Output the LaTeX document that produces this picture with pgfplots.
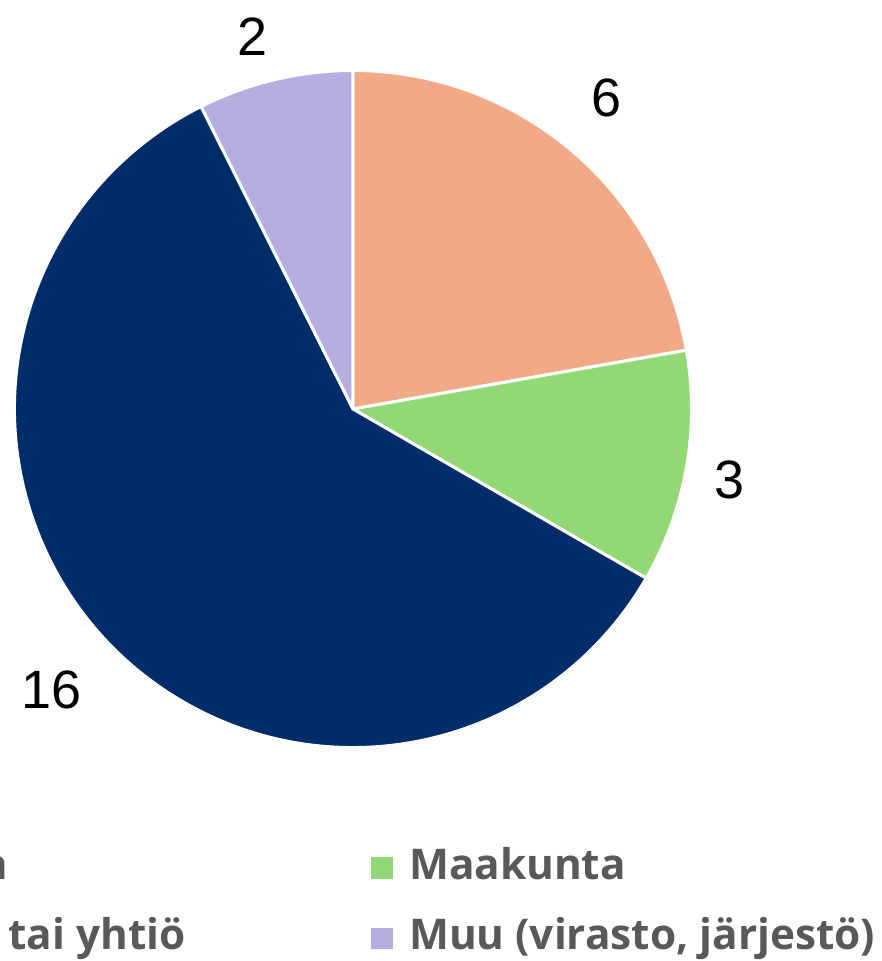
\documentclass[border=0pt]{standalone}
\usepackage{pgfplots}
\pgfplotsset{compat=1.18}
\usepackage{pgfplotstable}
\usepackage{fontspec}
\setmainfont{Liberation Sans}
\newfontfamily\legfont{Open Sans}[Ligatures=NoCommon]
\definecolor{slice0}{HTML}{F1AA85}
\definecolor{slice1}{HTML}{92D975}
\definecolor{slice2}{HTML}{002D6A}
\definecolor{slice3}{HTML}{B5AFE0}
\definecolor{legtext}{HTML}{595959}

% value, label centre (px from left, px from top)
\pgfplotstableread{
value lx ly
6  607 97.5
3  730 480
16 52  690
2  253 37
}\piedata

% totals and cumulative angles (start at 12 o'clock, clockwise)
\def\pietotal{0}
\foreach \i in {0,...,3}{%
  \pgfplotstablegetelem{\i}{value}\of\piedata
  \pgfmathsetmacro\t{\pietotal+\pgfplotsretval}%
  \global\let\pietotal\t
}
\def\piecum{0}
\foreach \i in {0,...,3}{%
  \pgfplotstablegetelem{\i}{value}\of\piedata
  \let\v\pgfplotsretval
  \pgfmathsetmacro\s{90-360*\piecum/\pietotal}%
  \pgfmathsetmacro\e{90-360*(\piecum+\v)/\pietotal}%
  \pgfmathsetmacro\c{\piecum+\v}%
  \global\let\piecum\c
  \expandafter\xdef\csname pieS\i\endcsname{\s}%
  \expandafter\xdef\csname pieE\i\endcsname{\e}%
  \pgfmathtruncatemacro\vv{\v}%
  \expandafter\xdef\csname pieV\i\endcsname{\vv}%
  \pgfplotstablegetelem{\i}{lx}\of\piedata
  \expandafter\xdef\csname pieX\i\endcsname{\pgfplotsretval}%
  \pgfplotstablegetelem{\i}{ly}\of\piedata
  \expandafter\xdef\csname pieY\i\endcsname{\pgfplotsretval}%
}

\tikzset{legtxt/.style={inner sep=0pt, text=legtext, font=\legfont\bfseries\fontsize{42.3}{48}\selectfont}}

\begin{document}
\begin{tikzpicture}
\begin{axis}[
  x=1pt, y=1pt,
  xmin=0, xmax=881, ymin=-961, ymax=0,
  hide axis, clip=false,
]
\pgfplotsinvokeforeach{0,1,2,3}{
  \fill[fill=slice#1, draw=white, line width=3pt, line join=round]
    (axis cs:353,-409) -- ++(\csname pieS#1\endcsname:338.5pt)
    arc[start angle=\csname pieS#1\endcsname, end angle=\csname pieE#1\endcsname, radius=338.5pt] -- cycle;
  \node[inner sep=0pt, font=\fontsize{54}{60}\selectfont, anchor=center]
    at (axis cs:\csname pieX#1\endcsname,-\csname pieY#1\endcsname) {\csname pieV#1\endcsname};
}
% legend
\fill[slice0] (axis cs:-190,-857) rectangle (axis cs:-168,-879);
\fill[slice1] (axis cs:371,-857) rectangle (axis cs:393,-879);
\fill[slice2] (axis cs:-190,-928) rectangle (axis cs:-168,-949);
\fill[slice3] (axis cs:371,-928) rectangle (axis cs:393,-949);
\node[legtxt, anchor=base east] at (axis cs:8,-880) {Kunta};
\node[legtxt, anchor=base west] at (axis cs:409,-880) {Maakunta};
\node[legtxt, anchor=base east] at (axis cs:186,-949) {Kunnan liikelaitos tai yhtiö};
\node[legtxt, anchor=base west] at (axis cs:409,-949) {Muu (virasto, järjestö)};
\end{axis}
\pgfresetboundingbox
\useasboundingbox (current axis.south west) rectangle (current axis.north east);
\end{tikzpicture}
\end{document}
